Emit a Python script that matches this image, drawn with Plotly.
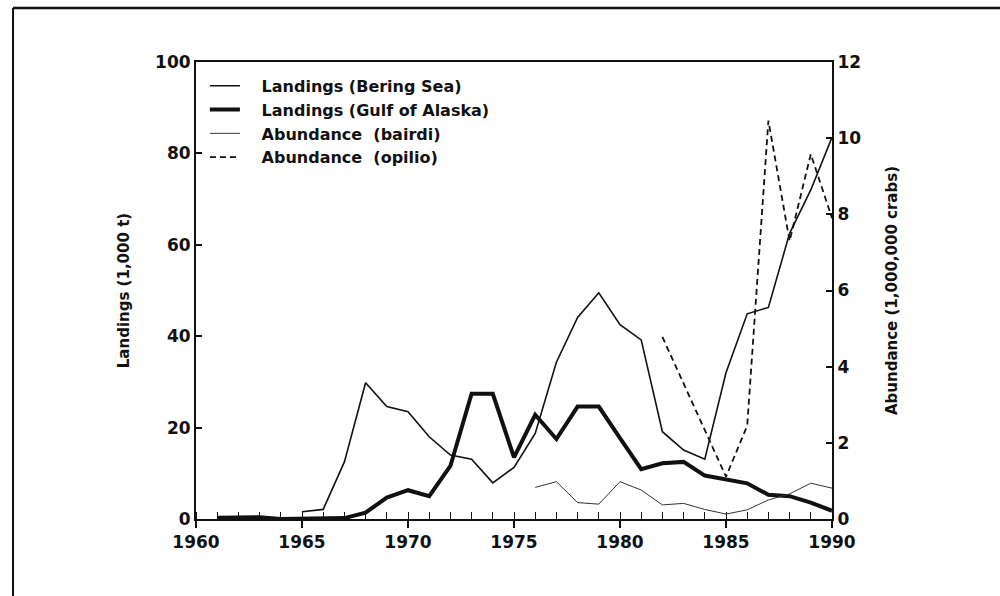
import plotly.graph_objects as go

# Annual series, 1960-1990
years_bering = list(range(1965, 1991))
landings_bering = [1.6, 2.1, 12.5, 29.8, 24.6, 23.5, 18.0, 14.0, 13.1, 7.9,
                   11.3, 18.7, 34.3, 44.1, 49.5, 42.5, 39.2, 19.1, 15.1, 13.1,
                   32.0, 44.9, 46.3, 62.5, 72.0, 83.5]

years_gulf = list(range(1961, 1991))
landings_gulf = [0.3, 0.3, 0.4, 0.0, 0.0, 0.0, 0.2, 1.4, 4.7, 6.3,
                 5.0, 11.6, 27.4, 27.4, 13.5, 22.8, 17.5, 24.6, 24.6, 17.7,
                 10.9, 12.2, 12.5, 9.5, 8.7, 7.8, 5.3, 5.0, 3.6, 1.8]

years_bairdi = list(range(1976, 1991))
abundance_bairdi = [0.83, 0.98, 0.43, 0.39, 0.98, 0.76, 0.37, 0.41, 0.25,
                    0.13, 0.24, 0.50, 0.66, 0.94, 0.81]

years_opilio = list(range(1982, 1991))
abundance_opilio = [4.78, 3.57, 2.36, 1.11, 2.45, 10.46, 7.30, 9.58, 7.90]

left_ticks = [0, 20, 40, 60, 80, 100]
right_ticks = [0, 2, 4, 6, 8, 10, 12]
year_ticks = [1960, 1965, 1970, 1975, 1980, 1985, 1990]

FONT = "DejaVu Sans"
BLACK = "#111111"
GAP = "\u00a0\u00a0\u00a0"  # extra room between legend sample and label

fig = go.Figure()

fig.add_trace(go.Scatter(
    x=years_bering, y=landings_bering, mode="lines",
    name=f"<b>{GAP}Landings (Bering Sea)</b>",
    line=dict(color=BLACK, width=1.6)))
fig.add_trace(go.Scatter(
    x=years_gulf, y=landings_gulf, mode="lines",
    name=f"<b>{GAP}Landings (Gulf of Alaska)</b>",
    line=dict(color=BLACK, width=4)))
fig.add_trace(go.Scatter(
    x=years_bairdi, y=abundance_bairdi, mode="lines", yaxis="y2",
    name=f"<b>{GAP}Abundance\u00a0\u00a0(bairdi)</b>",
    line=dict(color="#333333", width=1)))
fig.add_trace(go.Scatter(
    x=years_opilio, y=abundance_opilio, mode="lines", yaxis="y2",
    name=f"<b>{GAP}Abundance\u00a0\u00a0(opilio)</b>",
    line=dict(color=BLACK, width=1.8, dash="6px,4px")))

tick_font = dict(family=FONT, size=17, color=BLACK)

fig.update_layout(
    width=1000, height=596,
    margin=dict(l=196, r=168, t=62, b=77),
    paper_bgcolor="white", plot_bgcolor="white",
    font=dict(family=FONT, color=BLACK),
    showlegend=True,
    legend=dict(
        x=0.014, y=0.985, xanchor="left", yanchor="top",
        bgcolor="rgba(0,0,0,0)", borderwidth=0,
        font=dict(family=FONT, size=16, color=BLACK),
        tracegroupgap=0, itemwidth=30,
    ),
    xaxis=dict(
        range=[1960, 1990], tickvals=year_ticks,
        ticktext=[f"<b>{v}</b>" for v in year_ticks],
        ticks="outside", ticklen=7, tickwidth=1.5, tickcolor=BLACK,
        minor=dict(ticks="inside", dtick=1, tick0=1960, ticklen=7,
                   tickwidth=1.2, tickcolor=BLACK),
        showline=True, linecolor=BLACK, linewidth=2, mirror=True,
        showgrid=False, zeroline=False, tickfont=tick_font,
    ),
    yaxis=dict(
        range=[0, 100], tickvals=left_ticks,
        ticktext=[f"<b>{v}</b>" for v in left_ticks],
        ticks="inside", ticklen=6, tickwidth=1.5, tickcolor=BLACK,
        showline=True, linecolor=BLACK, linewidth=2,
        showgrid=False, zeroline=False, tickfont=tick_font,
        title=dict(text="<b>Landings (1,000 t)</b>", standoff=22,
                   font=dict(family=FONT, size=15, color=BLACK)),
    ),
    yaxis2=dict(
        range=[0, 12], tickvals=right_ticks,
        ticktext=[f"<b>{v}</b>" for v in right_ticks],
        overlaying="y", side="right", anchor="x",
        ticks="inside", ticklen=6, tickwidth=1.5, tickcolor=BLACK,
        showline=True, linecolor=BLACK, linewidth=2,
        showgrid=False, zeroline=False, tickfont=tick_font,
        title=dict(text="<b>Abundance (1,000,000 crabs)</b>", standoff=26,
                   font=dict(family=FONT, size=15, color=BLACK)),
    ),
)

# Outer frame: top rule and left rule of the figure panel
fig.add_shape(type="line", xref="paper", yref="paper",
              x0=-0.2877, x1=1.27, y0=1.118, y1=1.118,
              line=dict(color=BLACK, width=2.5))
fig.add_shape(type="line", xref="paper", yref="paper",
              x0=-0.2877, x1=-0.2877, y0=1.118, y1=-0.18,
              line=dict(color=BLACK, width=2))

fig.write_html("out.html")
